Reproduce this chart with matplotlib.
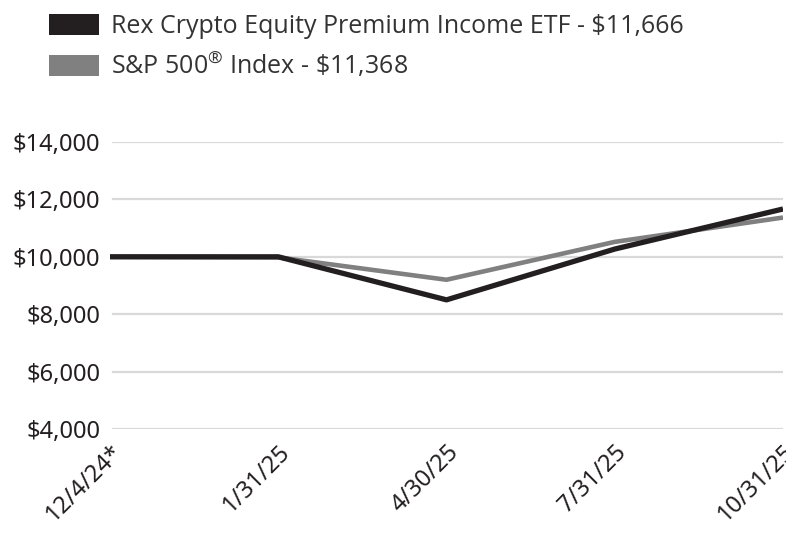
import matplotlib
matplotlib.use('Agg')
import matplotlib.pyplot as plt
from matplotlib.patches import Patch

# values
dates = ['12/4/24*', '1/31/25', '4/30/25', '7/31/25', '10/31/25']
fund_values = [10000, 10000, 8500, 10270, 11666]
index_values = [10000, 9980, 9200, 10520, 11368]
fund_label = 'Rex Crypto Equity Premium Income ETF - \\$11,666'
index_label = 'S&P 500$^{\\circledR}$ Index - \\$11,368'
yticks = [4000, 6000, 8000, 10000, 12000, 14000]

fund_color = '#231f20'
index_color = '#808080'
grid_color = '#d9d9d9'

fig = plt.figure(figsize=(7.86, 5.34), dpi=100)
ax = fig.add_axes([110 / 786, 1 - 429 / 534, (783 - 110) / 786, (429 - 142) / 534])

x = list(range(len(dates)))
ax.plot(x, index_values, color=index_color, lw=3.3, solid_capstyle='butt', zorder=3)
ax.plot(x, fund_values, color=fund_color, lw=3.8, solid_capstyle='butt', zorder=4)

ax.set_xlim(0, len(dates) - 1)
ax.set_ylim(4000, 14000)
ax.set_yticks(yticks)
ax.set_yticklabels(['${:,}'.format(v) for v in yticks], fontsize=17,
                   family=['Noto Sans', 'DejaVu Sans'], color='#231f20')
ax.set_xticks(x)
ax.set_xticklabels(dates, rotation=45, ha='right', va='top', rotation_mode='anchor',
                   fontsize=17, family=['Noto Sans', 'DejaVu Sans'], color='#231f20')
ax.tick_params(axis='both', length=0)
ax.tick_params(axis='y', pad=7)
ax.tick_params(axis='x', pad=8)

for v in yticks:
    ax.axhline(v, color=grid_color, lw=1.6, zorder=1, xmin=3 / 673)
for s in ax.spines.values():
    s.set_visible(False)

plt.rcParams['mathtext.fontset'] = 'custom'
plt.rcParams['mathtext.rm'] = 'Open Sans'

handles = [Patch(facecolor=fund_color, edgecolor='none'),
           Patch(facecolor=index_color, edgecolor='none')]
leg = fig.legend(handles, [fund_label, index_label], loc='upper left',
                 bbox_to_anchor=(44 / 786, 1 - 9 / 534), frameon=False,
                 prop={'family': ['Open Sans', 'DejaVu Sans'], 'size': 18},
                 handlelength=2.0, handleheight=0.9, handletextpad=0.48,
                 labelspacing=0.45, borderpad=0.2, borderaxespad=0)
for t in leg.get_texts():
    t.set_color('#333333')

fig.savefig('out.png', dpi=100)
